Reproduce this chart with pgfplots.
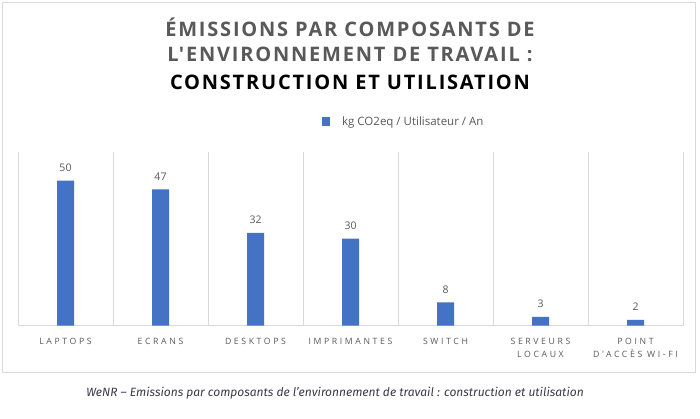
\documentclass[border=0pt]{standalone}
\usepackage{fontspec}
\usepackage{pgfplots}
\pgfplotsset{compat=1.18}
\setmainfont{Open Sans}
\newfontfamily\titlefont[LetterSpace=9]{Open Sans}
\newfontfamily\catfont[LetterSpace=30]{Open Sans}
\newfontfamily\capfont{Fira Sans}
\definecolor{barblue}{HTML}{4472C4}
\definecolor{gridgray}{HTML}{D9D9D9}
\definecolor{txtgray}{HTML}{595959}
\definecolor{capgray}{HTML}{3A3A48}
\begin{document}
\begin{tikzpicture}[x=1pt,y=1pt]
\path[use as bounding box] (0,0) rectangle (700,419);
\fill[white] (0,0) rectangle (700,419);
\draw[gridgray,line width=0.8pt] (2,419-2) rectangle (695,419-372);
\node[text=txtgray,font=\titlefont\bfseries\fontsize{20}{24}\selectfont] at (350,419-27) {ÉMISSIONS PAR COMPOSANTS DE};
\node[text=txtgray,font=\titlefont\bfseries\fontsize{20}{24}\selectfont] at (350,419-54) {L'ENVIRONNEMENT DE TRAVAIL :};
\node[text=black,font=\titlefont\bfseries\fontsize{20}{24}\selectfont] at (350,419-82) {CONSTRUCTION ET UTILISATION};
\node[text=capgray,font=\capfont\itshape\fontsize{12}{14}\selectfont] at (335,419-393) {WeNR – Emissions par composants de l’environnement de travail : construction et utilisation};
\begin{axis}[
  at={(18pt,93.3pt)}, anchor=south west,
  scale only axis, width=665pt, height=174pt,
  xmin=-0.5, xmax=6.5, ymin=0, ymax=60,
  axis x line*=bottom, axis y line=none,
  x axis line style={gridgray, line width=0.8pt, -},
  xtick={0,...,6},
  xticklabels={LAPTOPS,ECRANS,DESKTOPS,IMPRIMANTES,SWITCH,SERVEURS\\LOCAUX,POINT\\D'ACCÈS WI-FI},
  xticklabel style={align=center, text=txtgray, font=\catfont\fontsize{8.7}{13.7}\selectfont, yshift=-8.5pt},
  major tick length=0pt,
  extra x ticks={-0.5,0.5,1.5,2.5,3.5,4.5,5.5,6.5},
  extra x tick labels={},
  extra x tick style={grid=major, major grid style={gridgray, line width=0.8pt}},
  ytick=\empty,
  /pgf/number format/assume math mode=true,
  legend style={at={(0.457,1.1736)}, anchor=west, draw=none, fill=none, inner sep=0pt,
    font=\fontsize{11.5}{13}\selectfont, text=txtgray},
  clip=false,
]
\addlegendimage{draw=none, fill=none, legend image code/.code={\fill[barblue,draw=none] (0pt,-4.5pt) rectangle (8pt,4pt); \path[draw=none,fill=none] (0pt,0pt) -- (18pt,0pt);}}
\addlegendentry{kg CO2eq / Utilisateur / An}
\addplot[ybar, bar width=17pt, fill=barblue, draw=none, forget plot,
  nodes near coords,
  nodes near coords style={text=txtgray, font=\fontsize{10.5}{12}\selectfont, yshift=5.5pt}]
  coordinates {(0,50) (1,47) (2,32) (3,30) (4,8) (5,3) (6,2)};
\end{axis}
\end{tikzpicture}
\end{document}
